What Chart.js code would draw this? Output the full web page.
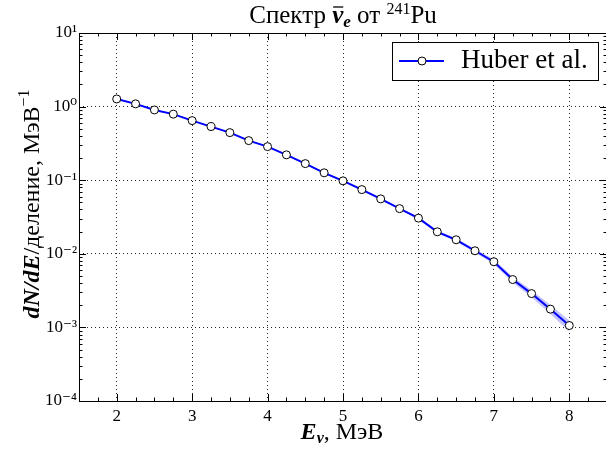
<!DOCTYPE html>
<html>
<head>
<meta charset="utf-8">
<script src="https://cdn.jsdelivr.net/npm/chart.js@4.4.0/dist/chart.umd.min.js"></script>
<style>
  html, body { margin: 0; padding: 0; background: #fff; overflow: hidden; }
  #wrap { width: 612px; height: 450px; }
</style>
</head>
<body>
<div id="wrap"><canvas id="spectrum" width="612" height="450"></canvas></div>
<script>
var SERIF = '"Liberation Serif", "DejaVu Serif", serif';

// antineutrino energy, MeV
var energy = [2.00, 2.25, 2.50, 2.75, 3.00, 3.25, 3.50, 3.75, 4.00, 4.25, 4.50, 4.75, 5.00,
              5.25, 5.50, 5.75, 6.00, 6.25, 6.50, 6.75, 7.00, 7.25, 7.50, 7.75, 8.00];
// dN/dE per fission, 1/MeV
var flux = [1.27, 1.09, 0.90, 0.79, 0.645, 0.535, 0.443, 0.345, 0.286, 0.221, 0.168, 0.126, 0.098,
            0.0745, 0.0557, 0.0411, 0.0305, 0.0199, 0.0155, 0.0110, 0.0078, 0.00447, 0.00288, 0.00177, 0.00106];
// relative uncertainty (band half-width)
var relErr = [0.02, 0.02, 0.02, 0.02, 0.02, 0.02, 0.02, 0.02, 0.02, 0.02, 0.02, 0.02, 0.03,
              0.03, 0.03, 0.03, 0.04, 0.04, 0.05, 0.06, 0.07, 0.09, 0.11, 0.14, 0.17];

var xTickValues = [2, 3, 4, 5, 6, 7, 8];
var xTickLabels = ['2', '3', '4', '5', '6', '7', '8'];
var yDecades = [-4, -3, -2, -1, 0, 1];
var yTickLabels = ['10\u207B\u2074', '10\u207B\u00B3', '10\u207B\u00B2', '10\u207B\u00B9', '10\u2070', '10\u00B9'];

var seriesLabel = 'Huber et al.';

function isInt(v) { return Math.abs(v - Math.round(v)) < 1e-9; }

function pts(ys) {
    return energy.map(function (e, i) { return { x: e, y: ys[i] }; });
}

var upper = flux.map(function (f, i) { return f * (1 + relErr[i]); });
var lower = flux.map(function (f, i) { return f * (1 - relErr[i]); });

// draws a row of text pieces with their own fonts, offsets and overbars
function drawRuns(ctx, runs, x, y, align) {
    var total = 0;
    runs.forEach(function (r) {
        ctx.font = r.font;
        r.w = ctx.measureText(r.text).width;
        total += r.w;
    });
    var cx = align === 'center' ? x - total / 2 : x;
    ctx.textAlign = 'left';
    ctx.textBaseline = 'alphabetic';
    runs.forEach(function (r) {
        ctx.font = r.font;
        ctx.fillText(r.text, cx, y + (r.dy || 0));
        if (r.bar) {
            ctx.beginPath();
            ctx.lineWidth = 1.3;
            ctx.moveTo(cx + 1, y - r.bar);
            ctx.lineTo(cx + r.w, y - r.bar);
            ctx.stroke();
        }
        cx += r.w;
    });
}

var frame = {
    id: 'frame',
    afterDraw: function (chart) {
        var ctx = chart.ctx;
        var a = chart.chartArea;
        var xs = chart.scales.x, ys = chart.scales.y;
        ctx.save();
        ctx.strokeStyle = '#000';
        ctx.fillStyle = '#000';

        // spines
        ctx.lineWidth = 1;
        ctx.strokeRect(a.left + 0.5, a.top + 0.5, a.right - a.left, a.bottom - a.top);

        // inward ticks on all four sides
        ctx.beginPath();
        xs.ticks.forEach(function (t) {
            var px = Math.round(xs.getPixelForValue(t.value)) + 0.5;
            var len = isInt(t.value) ? 7 : 3.5;
            ctx.moveTo(px, a.bottom); ctx.lineTo(px, a.bottom - len);
            ctx.moveTo(px, a.top); ctx.lineTo(px, a.top + len);
        });
        ys.ticks.forEach(function (t) {
            var py = Math.round(ys.getPixelForValue(t.value)) + 0.5;
            var len = isInt(Math.log10(t.value)) ? 7 : 3.5;
            ctx.moveTo(a.left, py); ctx.lineTo(a.left + len, py);
            ctx.moveTo(a.right, py); ctx.lineTo(a.right - len, py);
        });
        ctx.stroke();

        var reg = function (s) { return s + 'px ' + SERIF; };
        var bi = function (s) { return 'italic bold ' + s + 'px ' + SERIF; };

        // title
        drawRuns(ctx, [
            { text: 'Спектр ', font: reg(25) },
            { text: '\u03BD', font: bi(25), bar: 16 },
            { text: 'e', font: bi(17), dy: 4 },
            { text: ' от ', font: reg(25) },
            { text: '241', font: reg(16), dy: -9 },
            { text: 'Pu', font: reg(25) }
        ], (a.left + a.right) / 2, 23, 'center');

        // x axis title
        drawRuns(ctx, [
            { text: 'E', font: bi(24) },
            { text: '\u03BD', font: bi(16), dy: 4 },
            { text: ', МэВ', font: reg(24) }
        ], 342, 439, 'center');

        // y axis title
        ctx.save();
        ctx.translate(39, 204);
        ctx.rotate(-Math.PI / 2);
        drawRuns(ctx, [
            { text: 'dN/dE', font: bi(24) },
            { text: '/деление, МэВ', font: reg(24) },
            { text: '\u22121', font: reg(16), dy: -10 }
        ], 0, 0, 'center');
        ctx.restore();

        // legend
        var ds = chart.data.datasets[0];
        ctx.fillStyle = '#fff';
        ctx.fillRect(392.5, 42.5, 206, 38);
        ctx.lineWidth = 1;
        ctx.strokeStyle = '#000';
        ctx.strokeRect(392.5, 42.5, 206, 38);
        ctx.beginPath();
        ctx.strokeStyle = ds.borderColor;
        ctx.lineWidth = ds.borderWidth;
        ctx.moveTo(399, 61); ctx.lineTo(444, 61);
        ctx.stroke();
        ctx.beginPath();
        ctx.arc(422, 61, ds.pointRadius, 0, Math.PI * 2);
        ctx.fillStyle = ds.pointBackgroundColor;
        ctx.fill();
        ctx.strokeStyle = ds.pointBorderColor;
        ctx.lineWidth = ds.pointBorderWidth;
        ctx.stroke();
        ctx.fillStyle = '#000';
        drawRuns(ctx, [{ text: ds.label, font: reg(27) }], 461, 68, 'left');

        ctx.restore();
    }
};

var gridDotted = function (ok) {
    return function (c) { return ok(c.tick.value) ? 'rgba(0,0,0,0.85)' : 'rgba(0,0,0,0)'; };
};

var config = {
    type: 'line',
    data: {
        datasets: [
            {
                label: seriesLabel,
                data: pts(flux),
                borderColor: '#0000ff',
                borderWidth: 2,
                pointRadius: 4,
                pointBackgroundColor: '#ffffff',
                pointBorderColor: '#000000',
                pointBorderWidth: 1,
                tension: 0,
                fill: false
            },
            {
                label: 'band+',
                data: pts(upper),
                borderWidth: 0,
                pointRadius: 0,
                backgroundColor: 'rgba(80,80,255,0.35)',
                fill: '+1'
            },
            {
                label: 'band-',
                data: pts(lower),
                borderWidth: 0,
                pointRadius: 0,
                fill: false
            }
        ]
    },
    options: {
        responsive: false,
        animation: false,
        devicePixelRatio: 1,
        layout: { padding: { left: 0, top: 33, right: 4, bottom: 0 } },
        plugins: {
            legend: { display: false },
            tooltip: { enabled: false },
            title: { display: false }
        },
        scales: {
            x: {
                type: 'linear',
                min: 1.5,
                max: 8.5,
                afterBuildTicks: function (s) {
                    var t = [];
                    for (var v = 1.5; v <= 8.5 + 1e-9; v += 0.25) t.push({ value: v });
                    s.ticks = t;
                },
                afterFit: function (s) { s.height = 49; },
                ticks: {
                    autoSkip: false,
                    maxRotation: 0,
                    padding: 5,
                    color: '#000',
                    font: { family: SERIF, size: 17 },
                    callback: function (v) {
                        var i = xTickValues.indexOf(v);
                        return i >= 0 ? xTickLabels[i] : '';
                    }
                },
                grid: { color: gridDotted(isInt), lineWidth: 1, drawTicks: false },
                border: { display: false, dash: [1, 3] }
            },
            y: {
                type: 'logarithmic',
                min: 1e-4,
                max: 10,
                afterBuildTicks: function (s) {
                    var t = [];
                    yDecades.forEach(function (d) {
                        for (var m = 1; m <= 9; m++) {
                            if (d === 1 && m > 1) break;
                            t.push({ value: m * Math.pow(10, d) });
                        }
                    });
                    s.ticks = t;
                },
                afterFit: function (s) { s.width = 79; },
                ticks: {
                    autoSkip: false,
                    padding: 2,
                    color: '#000',
                    font: { family: SERIF, size: 17 },
                    callback: function (v) {
                        var e = Math.log10(v);
                        if (!isInt(e)) return '';
                        var i = yDecades.indexOf(Math.round(e));
                        return i >= 0 ? yTickLabels[i] : '';
                    }
                },
                grid: {
                    color: gridDotted(function (v) {
                        var e = Math.log10(v);
                        return isInt(e) && e > -4 + 1e-9 && e < 1 - 1e-9;
                    }),
                    lineWidth: 1,
                    drawTicks: false
                },
                border: { display: false, dash: [1, 3] }
            }
        }
    },
    plugins: [frame]
};

var ctx = document.getElementById('spectrum').getContext('2d');
window.spectrumChart = new Chart(ctx, config);
</script>
</body>
</html>
